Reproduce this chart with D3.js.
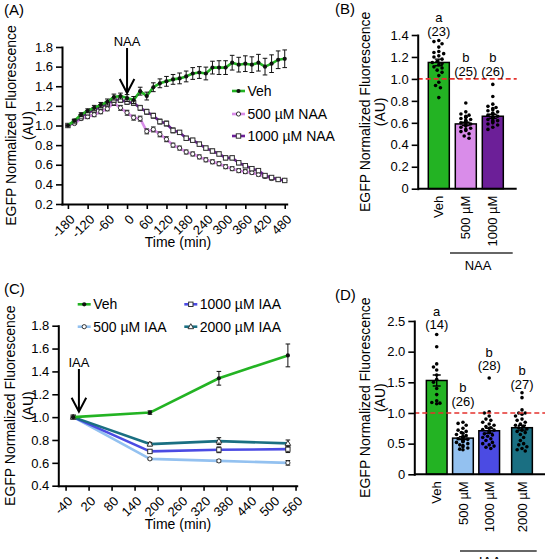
<!DOCTYPE html>
<html><head><meta charset="utf-8">
<script src="https://cdn.jsdelivr.net/npm/d3@7"></script>
<style>body{margin:0;background:#fff}svg{display:block}</style>
</head><body><svg id="c" width="546" height="559"></svg>
<script>
// ---------------- DATA ----------------
// Panel A (NAA time course)
const naaTimes = [-180,-160,-140,-120,-100,-80,-60,-40,-20,0,20,40,60,80,100,120,140,160,180,200,220,240,260,280,300,320,340,360,380,400,420,440,460,480];
const naaVeh   = [1.00,1.05,1.11,1.15,1.18,1.21,1.24,1.29,1.30,1.28,1.26,1.35,1.30,1.39,1.43,1.45,1.47,1.48,1.50,1.53,1.54,1.53,1.59,1.59,1.59,1.64,1.62,1.63,1.62,1.64,1.60,1.63,1.67,1.68];
const naaVehSem= [0.00,0.015,0.02,0.02,0.025,0.025,0.03,0.03,0.03,0.035,0.035,0.04,0.04,0.045,0.045,0.05,0.05,0.055,0.055,0.06,0.06,0.065,0.065,0.07,0.07,0.075,0.075,0.08,0.08,0.085,0.085,0.09,0.09,0.09];
const naa500   = [1.00,1.02,1.07,1.09,1.11,1.14,1.17,1.23,1.18,1.13,1.08,1.07,0.94,0.96,0.91,0.86,0.80,0.77,0.73,0.71,0.68,0.65,0.63,0.61,0.58,0.56,0.54,0.53,0.52,0.50,0.48,0.46,0.45,0.44];
const naa500Sem= [0.00,0.01,0.015,0.02,0.02,0.02,0.02,0.025,0.025,0.025,0.025,0.025,0.025,0.025,0.025,0.025,0.02,0.02,0.02,0.02,0.02,0.02,0.02,0.02,0.02,0.02,0.02,0.02,0.015,0.015,0.015,0.015,0.015,0.015];
const naa1000  = [1.00,1.04,1.09,1.13,1.16,1.19,1.22,1.26,1.26,1.24,1.23,1.18,1.14,1.10,1.04,1.02,0.95,0.93,0.87,0.85,0.81,0.77,0.74,0.71,0.67,0.67,0.62,0.59,0.56,0.54,0.49,0.47,0.45,0.44];
const naa1000Sem=[0.00,0.01,0.015,0.02,0.02,0.02,0.02,0.025,0.025,0.025,0.025,0.025,0.025,0.025,0.025,0.025,0.025,0.02,0.02,0.02,0.02,0.02,0.02,0.02,0.02,0.02,0.02,0.02,0.02,0.015,0.015,0.015,0.015,0.015];
const naaXTicks = [-180,-120,-60,0,60,120,180,240,300,360,420,480];
const naaYTicks = [0.2,0.4,0.6,0.8,1.0,1.2,1.4,1.6,1.8];
const naaLegend = ["Veh","500 µM NAA","1000 µM NAA"];

// Panel B (NAA bars)
const bCats   = ["Veh","500 µM","1000 µM"];
const bMeans  = [1.15,0.59,0.66];
const bSems   = [0.03,0.015,0.018];
const bLetters= ["a","b","b"];
const bN      = ["(23)","(25)","(26)"];
const bDotsVeh  = [1.35,1.34,1.32,1.29,1.25,1.24,1.23,1.21,1.20,1.18,1.16,1.15,1.14,1.13,1.11,1.10,1.08,1.06,1.03,0.97,0.94,0.92,0.83];
const bDots500  = [0.78,0.70,0.68,0.67,0.66,0.65,0.65,0.64,0.63,0.62,0.62,0.61,0.60,0.60,0.59,0.58,0.57,0.56,0.55,0.54,0.53,0.52,0.50,0.48,0.46];
const bDots1000 = [0.95,0.84,0.77,0.75,0.74,0.73,0.72,0.71,0.70,0.69,0.68,0.68,0.67,0.66,0.65,0.65,0.64,0.63,0.62,0.62,0.61,0.60,0.59,0.58,0.56,0.54];
const bYTicks = [0,0.2,0.4,0.6,0.8,1.0,1.2,1.4];
const bGroup  = "NAA";

// Panel C (IAA time course)
const iaaTimes  = [-20,180,360,540];
const iaaVeh    = [1.00,1.04,1.34,1.54];
const iaaVehSem = [0.00,0.015,0.06,0.10];
const iaa500    = [1.00,0.635,0.617,0.60];
const iaa500Sem = [0.00,0.008,0.012,0.02];
const iaa1000   = [1.00,0.70,0.714,0.72];
const iaa1000Sem= [0.00,0.015,0.025,0.03];
const iaa2000   = [1.00,0.764,0.79,0.77];
const iaa2000Sem= [0.00,0.015,0.03,0.03];
const iaaXTicks = [-40,20,80,140,200,260,320,380,440,500,560];
const iaaYTicks = [0.4,0.6,0.8,1.0,1.2,1.4,1.6,1.8];
const iaaLegend = ["Veh","500 µM IAA","1000 µM IAA","2000 µM IAA"];

// Panel D (IAA bars)
const dCats   = ["Veh","500 µM","1000 µM","2000 µM"];
const dMeans  = [1.53,0.59,0.71,0.76];
const dSems   = [0.09,0.025,0.04,0.04];
const dLetters= ["a","b","b","b"];
const dN      = ["(14)","(26)","(28)","(27)"];
const dDotsVeh  = [2.28,2.08,1.80,1.75,1.70,1.62,1.55,1.50,1.40,1.30,1.20,1.17,1.16,1.15];
const dDots500  = [0.85,0.83,0.80,0.75,0.72,0.70,0.68,0.67,0.65,0.63,0.62,0.60,0.60,0.58,0.57,0.55,0.54,0.53,0.52,0.50,0.48,0.47,0.45,0.43,0.41,0.40];
const dDots1000 = [1.57,1.02,1.00,0.95,0.90,0.88,0.85,0.82,0.80,0.78,0.76,0.75,0.73,0.72,0.70,0.68,0.66,0.64,0.62,0.60,0.58,0.55,0.52,0.50,0.48,0.46,0.44,0.42];
const dDots2000 = [1.33,1.25,1.05,1.00,1.00,0.98,0.95,0.90,0.88,0.85,0.82,0.80,0.78,0.76,0.74,0.72,0.70,0.68,0.65,0.60,0.55,0.50,0.48,0.45,0.42,0.40,0.38];
const dYTicks = [0,0.5,1.0,1.5,2.0,2.5];
const dGroup  = "IAA";

// ---------------- STYLE ----------------
const FONT = '"Liberation Sans", Arial, Helvetica, sans-serif';
const C_VEH = "#23b323", C_N500 = "#d98ce9", C_N1000 = "#6c1f98";
const C_I500 = "#93c1f0", C_I1000 = "#4b4be3", C_I2000 = "#1a6f82";
const RED = "#e5322e";

const svg = d3.select("#c");

function styleAxis(g, fs){
  g.attr("font-family", FONT).attr("font-size", fs||13);
  g.select(".domain").attr("stroke","#000").attr("stroke-width",2).attr("stroke-linecap","square");
  g.selectAll(".tick line").attr("stroke","#000").attr("stroke-width",1.6);
  g.selectAll(".tick text").attr("fill","#000");
}
function yTitle(x1, x2, yc){
  svg.append("text").attr("transform",`translate(${x1},${yc}) rotate(-90)`).attr("text-anchor","middle")
    .attr("dy","0.35em").attr("font-family",FONT).attr("font-size",14).text("EGFP Normalized Fluorescence");
  svg.append("text").attr("transform",`translate(${x2},${yc}) rotate(-90)`).attr("text-anchor","middle")
    .attr("dy","0.35em").attr("font-family",FONT).attr("font-size",14).text("(AU)");
}
function label(x,y,t,fs,anchor){
  return svg.append("text").attr("x",x).attr("y",y).attr("font-family",FONT).attr("font-size",fs||13)
    .attr("text-anchor",anchor||"start").text(t);
}
function marker(g, type, x, y, color){
  if(type==="dot") g.append("circle").attr("cx",x).attr("cy",y).attr("r",2.1).attr("fill","#111");
  else if(type==="circle") g.append("circle").attr("cx",x).attr("cy",y).attr("r",2.1).attr("fill","#fff").attr("stroke","#333").attr("stroke-width",1);
  else if(type==="square") g.append("rect").attr("x",x-2.2).attr("y",y-2.2).attr("width",4.4).attr("height",4.4).attr("fill","#fff").attr("stroke","#333").attr("stroke-width",1);
  else if(type==="tri") g.append("path").attr("d",`M${x},${y-3}L${x+2.8},${y+2}L${x-2.8},${y+2}Z`).attr("fill","#fff").attr("stroke","#333").attr("stroke-width",1);
}
function series(x, y, times, vals, sems, color, type, lw){
  const g = svg.append("g");
  g.append("path").datum(times.map((t,i)=>[t,vals[i]]))
    .attr("d", d3.line().x(d=>x(d[0])).y(d=>y(d[1])))
    .attr("fill","none").attr("stroke",color).attr("stroke-width",lw||2.6).attr("stroke-linejoin","round");
  times.forEach((t,i)=>{
    const s = sems[i]; if(!s) return;
    const cx = x(t), y1 = y(vals[i]+s), y2 = y(vals[i]-s);
    g.append("path").attr("d",`M${cx},${y1}V${y2}M${cx-2.3},${y1}H${cx+2.3}M${cx-2.3},${y2}H${cx+2.3}`)
      .attr("stroke","#111").attr("stroke-width",1).attr("fill","none");
  });
  times.forEach((t,i)=> marker(g, type, x(t), y(vals[i]), color));
}
function legendItem(x, y, color, type, text){
  const g = svg.append("g");
  g.append("line").attr("x1",x).attr("x2",x+13).attr("y1",y).attr("y2",y).attr("stroke",color).attr("stroke-width",2.6);
  marker(g, type, x+6.5, y, color);
  label(x+15.5, y, text, 14).attr("dy","0.35em");
}
function rotXLabels(g){
  g.selectAll(".tick text").attr("x",0).attr("y",0).attr("dy","0.35em")
   .attr("text-anchor","end").attr("transform","translate(4,13) rotate(-45)");
}
function arrow(x, yTop, yTip){
  svg.append("path").attr("d",`M${x},${yTop}V${yTip}M${x-7.3},${yTip-14}L${x},${yTip}L${x+7.3},${yTip-14}`)
    .attr("fill","none").attr("stroke","#000").attr("stroke-width",2);
}
function swarm(values, cx, yS, r, half){
  const placed = [];
  const sorted = values.slice().sort((a,b)=>b-a);
  sorted.forEach(v=>{
    const y = yS(v);
    let bx = cx;
    for(let k=0;k<60;k++){
      const off = (k%2===0?1:-1)*Math.ceil(k/2)*r*0.9;
      if(Math.abs(off)>half) continue;
      const x = cx+off;
      if(placed.every(p=>(p.x-x)*(p.x-x)+(p.y-y)*(p.y-y) >= (2*r+0.4)*(2*r+0.4))){ bx = x; break; }
    }
    placed.push({x:bx,y});
  });
  return placed;
}
function bars(xPos, bw, yS, cats, means, sems, colors, dots){
  const g = svg.append("g");
  cats.forEach((c,i)=>{
    const cx = xPos(i);
    g.append("rect").attr("x",cx-bw/2).attr("y",yS(means[i])).attr("width",bw).attr("height",yS(0)-yS(means[i]))
      .attr("fill",colors[i]).attr("stroke","#000").attr("stroke-width",1.5);
  });
  cats.forEach((c,i)=>{
    const cx = xPos(i);
    swarm(dots[i], cx, yS, 1.8, bw/2-2.5).forEach(p=>g.append("circle").attr("cx",p.x).attr("cy",p.y).attr("r",1.8).attr("fill","#000"));
    const y1 = yS(means[i]+sems[i]), y2 = yS(means[i]-sems[i]);
    g.append("path").attr("d",`M${cx},${y1}V${y2}M${cx-4},${y1}H${cx+4}M${cx-4},${y2}H${cx+4}`)
      .attr("stroke","#000").attr("stroke-width",1.4).attr("fill","none");
  });
}

// ---------------- PANEL A ----------------
const xA = d3.scaleLinear().domain([-198,486]).range([62,286.7]);
const yA = d3.scaleLinear().domain([0.2,1.8]).range([204,47]);
label(4,15,"(A)",15);
svg.append("g").attr("transform",`translate(0,${yA(0.2)})`)
  .call(d3.axisBottom(xA).tickValues(naaXTicks).tickFormat(d=>String(d)).tickSize(5).tickSizeOuter(0))
  .call(g=>{styleAxis(g); rotXLabels(g);});
svg.append("g").attr("transform",`translate(${xA.range()[0]},0)`)
  .call(d3.axisLeft(yA).tickValues(naaYTicks).tickFormat(d3.format(".1f")).tickSize(6).tickPadding(3).tickSizeOuter(0))
  .call(g=>styleAxis(g));
series(xA, yA, naaTimes, naa500, naa500Sem, C_N500, "circle");
series(xA, yA, naaTimes, naa1000, naa1000Sem, C_N1000, "square");
series(xA, yA, naaTimes, naaVeh, naaVehSem, C_VEH, "dot");
arrow(xA(0), 48, 93);
label(xA(0), 46, "NAA", 13, "middle");
legendItem(232, 91, C_VEH, "dot", naaLegend[0]);
legendItem(232, 114, C_N500, "circle", naaLegend[1]);
legendItem(232, 136, C_N1000, "square", naaLegend[2]);
label(178, 247, "Time (min)", 14, "middle");
yTitle(11, 28, (yA(0.2)+yA(1.8))/2);

// ---------------- PANEL B ----------------
const yB = d3.scaleLinear().domain([0,1.4]).range([188.7,35]);
const xB = d3.scaleBand().domain(bCats).range([425.3,506.3]).paddingInner(0.222).paddingOuter(0.111);
const bAxisX = 417.7, bAxisEnd = 516.7;
label(335,14,"(B)",15);
bars(i=>xB(bCats[i])+xB.bandwidth()/2, xB.bandwidth(), yB, bCats, bMeans, bSems, [C_VEH,C_N500,C_N1000], [bDotsVeh,bDots500,bDots1000]);
svg.append("line").attr("x1",bAxisX).attr("x2",bAxisEnd).attr("y1",yB(1)).attr("y2",yB(1))
  .attr("stroke",RED).attr("stroke-width",1.7).attr("stroke-dasharray","5,3");
svg.append("g").attr("transform",`translate(${bAxisX},0)`)
  .call(d3.axisLeft(yB).tickValues(bYTicks).tickFormat(d=>d===0?"0":d3.format(".1f")(d)).tickSize(6).tickPadding(3).tickSizeOuter(0))
  .call(g=>styleAxis(g));
svg.append("line").attr("x1",bAxisX).attr("x2",bAxisEnd).attr("y1",yB(0)).attr("y2",yB(0)).attr("stroke","#000").attr("stroke-width",2);
bCats.forEach((c,i)=>{
  const cx = xB(c)+xB.bandwidth()/2;
  svg.append("text").attr("transform",`translate(${cx},${yB(0)+7}) rotate(-90)`).attr("text-anchor","end").attr("dy","0.35em")
    .attr("font-family",FONT).attr("font-size",13).text(c);
});
const bNLevel = [1.43,1.066,1.066];
bCats.forEach((c,i)=>{
  const cx = xB(c)+xB.bandwidth()/2, yc = yB(bNLevel[i]);
  label(cx, yc, bN[i], 13, "middle").attr("dy","0.35em");
  label(cx, yc-14.5, bLetters[i], 13, "middle").attr("dy","0.35em");
});
svg.append("line").attr("x1",450).attr("x2",512.7).attr("y1",253).attr("y2",253).attr("stroke","#333").attr("stroke-width",1.5);
label(478, 270, bGroup, 13, "middle");
yTitle(365, 380, (yB(0)+yB(1.4))/2);

// ---------------- PANEL C ----------------
const xC = d3.scaleLinear().domain([-59,563]).range([58.3,296.7]);
const yC = d3.scaleLinear().domain([0.4,1.8]).range([485.7,325.7]);
label(4,294,"(C)",15);
svg.append("g").attr("transform",`translate(0,${yC(0.4)})`)
  .call(d3.axisBottom(xC).tickValues(iaaXTicks).tickFormat(d=>String(d)).tickSize(5).tickSizeOuter(0))
  .call(g=>{styleAxis(g); rotXLabels(g);});
svg.append("g").attr("transform",`translate(${xC.range()[0]},0)`)
  .call(d3.axisLeft(yC).tickValues(iaaYTicks).tickFormat(d3.format(".1f")).tickSize(6).tickPadding(3).tickSizeOuter(0))
  .call(g=>styleAxis(g));
series(xC, yC, iaaTimes, iaa500, iaa500Sem, C_I500, "circle");
series(xC, yC, iaaTimes, iaa1000, iaa1000Sem, C_I1000, "square");
series(xC, yC, iaaTimes, iaa2000, iaa2000Sem, C_I2000, "tri");
series(xC, yC, iaaTimes, iaaVeh, iaaVehSem, C_VEH, "dot");
arrow(xC(0)-2, 369, 411.7);
label(xC(0)-2, 366.5, "IAA", 13, "middle");
legendItem(77.7, 304.3, C_VEH, "dot", iaaLegend[0]);
legendItem(77.7, 326.7, C_I500, "circle", iaaLegend[1]);
legendItem(184.3, 304.3, C_I1000, "square", iaaLegend[2]);
legendItem(184.3, 326.7, C_I2000, "tri", iaaLegend[3]);
label(178, 529, "Time (min)", 14, "middle");
yTitle(10, 28, (yC(0.4)+yC(1.8))/2);

// ---------------- PANEL D ----------------
const yD = d3.scaleLinear().domain([0,2.5]).range([474.3,321]);
const xD = d3.scaleLinear().domain([0,3.25]).range([436.7,522]);
const dSlot = i => (i===3 ? 3.25 : i);
const dAxisX = 414.3, dAxisEnd = 545;
label(335,300,"(D)",15);
bars(i=>xD(dSlot(i)), 20.7, yD, dCats, dMeans, dSems, [C_VEH,C_I500,C_I1000,C_I2000], [dDotsVeh,dDots500,dDots1000,dDots2000]);
svg.append("line").attr("x1",dAxisX).attr("x2",dAxisEnd).attr("y1",yD(1)).attr("y2",yD(1))
  .attr("stroke",RED).attr("stroke-width",1.7).attr("stroke-dasharray","5,3");
svg.append("g").attr("transform",`translate(${dAxisX},0)`)
  .call(d3.axisLeft(yD).tickValues(dYTicks).tickFormat(d=>d===0?"0":d3.format(".1f")(d)).tickSize(6).tickPadding(3).tickSizeOuter(0))
  .call(g=>styleAxis(g));
svg.append("line").attr("x1",dAxisX).attr("x2",dAxisEnd).attr("y1",yD(0)).attr("y2",yD(0)).attr("stroke","#000").attr("stroke-width",2);
dCats.forEach((c,i)=>{
  svg.append("text").attr("transform",`translate(${xD(dSlot(i))},${yD(0)+7}) rotate(-90)`).attr("text-anchor","end").attr("dy","0.35em")
    .attr("font-family",FONT).attr("font-size",13).text(c);
});
const dNLevel = [2.436,1.196,1.772,1.468];
dCats.forEach((c,i)=>{
  const cx = xD(dSlot(i)), yc = yD(dNLevel[i]);
  label(cx, yc, dN[i], 13, "middle").attr("dy","0.35em");
  label(cx, yc-13.5, dLetters[i], 13, "middle").attr("dy","0.35em");
});
svg.append("line").attr("x1",460).attr("x2",536.7).attr("y1",551).attr("y2",551).attr("stroke","#333").attr("stroke-width",1.5);
label(490, 567, dGroup, 14, "middle");
yTitle(365, 380, (yD(0)+yD(2.5))/2);
</script></body></html>
